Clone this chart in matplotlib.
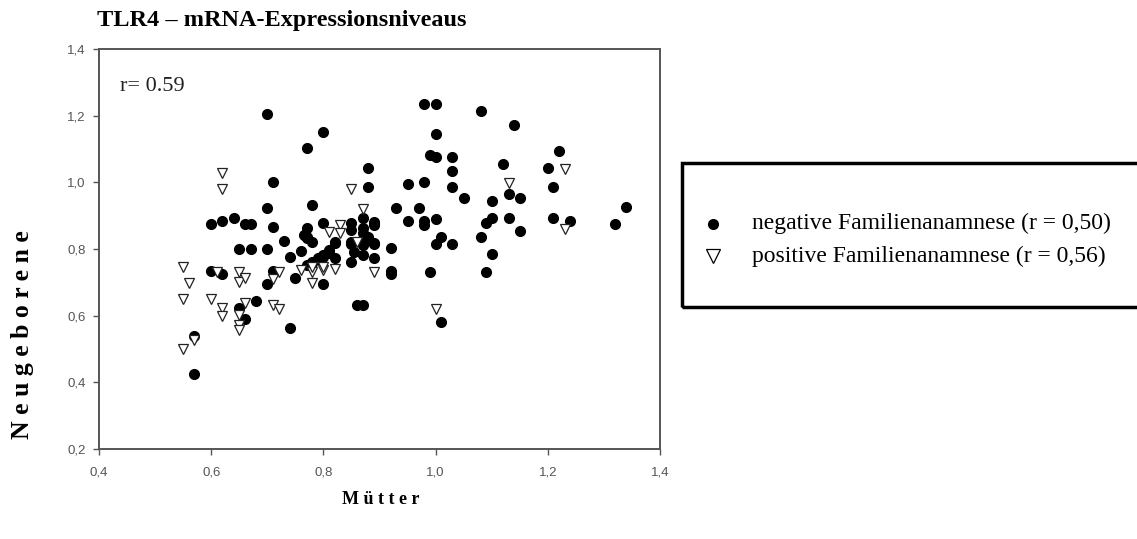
import numpy as np
import matplotlib.pyplot as plt
from matplotlib.patches import Rectangle

# Mütter / Neugeborene, negative Familienanamnese
neg_x = [0.70, 0.80, 0.77, 0.71, 0.70, 0.78,
         0.60, 0.62, 0.64, 0.66, 0.67,
         0.71, 0.77, 0.80, 0.73, 0.77, 0.78,
         0.65, 0.67, 0.70, 0.76, 0.74,
         0.60, 0.62, 0.71, 0.70, 0.75, 0.80,
         0.78, 0.795, 0.81,
         0.65, 0.66, 0.68, 0.74, 0.57, 0.57,
         0.98, 1.00, 1.00, 1.08, 1.14, 1.22,
         0.99, 1.00, 1.03, 1.03, 1.03, 1.12, 1.20, 1.21,
         0.88, 0.88, 0.95, 0.98, 1.05, 1.10, 1.13, 1.15,
         0.93, 0.97, 0.95, 0.98, 0.98, 1.00, 1.10, 1.09, 1.13, 1.15, 1.21,
         1.08, 1.01, 1.00, 1.03, 1.10, 0.92,
         0.82, 0.85, 0.87, 0.89,
         0.80, 0.82, 0.85, 0.87, 0.89,
         0.92, 0.92, 0.99, 1.09,
         0.86, 0.87, 1.01,
         1.24, 1.34, 1.32,
         0.87, 0.89, 0.89, 0.765, 0.77, 0.85, 0.85, 0.87, 0.87, 0.88,
         0.85, 0.87, 0.82, 0.89, 0.81, 0.80, 0.79, 0.78, 0.77, 0.855]
neg_y = [1.205, 1.152, 1.104, 1.00, 0.924, 0.933,
         0.876, 0.884, 0.892, 0.876, 0.876,
         0.865, 0.864, 0.877, 0.824, 0.837, 0.822,
         0.80, 0.80, 0.80, 0.795, 0.777,
         0.734, 0.725, 0.734, 0.694, 0.714, 0.694,
         0.757, 0.767, 0.787,
         0.622, 0.59, 0.644, 0.562, 0.54, 0.425,
         1.234, 1.234, 1.144, 1.214, 1.172, 1.095,
         1.082, 1.075, 1.075, 1.035, 0.985, 1.055, 1.042, 0.985,
         1.042, 0.985, 0.995, 1.002, 0.952, 0.944, 0.965, 0.952,
         0.924, 0.924, 0.884, 0.884, 0.872, 0.889, 0.892, 0.877, 0.892, 0.855, 0.892,
         0.835, 0.835, 0.815, 0.815, 0.784, 0.802,
         0.819, 0.815, 0.815, 0.815,
         0.777, 0.772, 0.762, 0.782, 0.772,
         0.735, 0.725, 0.732, 0.732,
         0.632, 0.632, 0.582,
         0.884, 0.925, 0.874,
         0.892, 0.882, 0.872, 0.842, 0.832, 0.877, 0.857, 0.862, 0.847, 0.837,
         0.822, 0.812, 0.822, 0.817, 0.797, 0.782, 0.772, 0.762, 0.752, 0.792]

# positive Familienanamnese
pos_x = [0.62, 0.62, 0.55, 0.61, 0.65, 0.65, 0.66, 0.72, 0.71,
         0.76, 0.78, 0.80, 0.78, 0.80,
         0.55, 0.56, 0.60, 0.62, 0.62, 0.65, 0.65, 0.65, 0.66, 0.71, 0.72,
         0.57, 0.55,
         0.85, 0.87, 0.81, 0.83, 0.83, 0.86, 0.82, 0.78, 0.89,
         1.13, 1.00, 1.23, 1.23]
pos_y = [1.029, 0.98, 0.747, 0.732, 0.732, 0.70, 0.712, 0.73, 0.709,
         0.737, 0.732, 0.737, 0.699, 0.747,
         0.649, 0.699, 0.649, 0.622, 0.599, 0.602, 0.572, 0.557, 0.637, 0.632, 0.62,
         0.527, 0.50,
         0.98, 0.919, 0.852, 0.872, 0.849, 0.822, 0.739, 0.745, 0.732,
         0.999, 0.62, 1.04, 0.859]

xticks = [0.4, 0.6, 0.8, 1.0, 1.2, 1.4]
yticks = [0.2, 0.4, 0.6, 0.8, 1.0, 1.2, 1.4]

serif = ['Liberation Serif', 'DejaVu Serif']
sans = ['Liberation Sans', 'DejaVu Sans']

fig = plt.figure(figsize=(11.37, 5.39), dpi=100)
ax = fig.add_axes([0.0871, 0.167, 0.4934, 0.742])

ax.plot(neg_x, neg_y, 'o', color='black', markersize=7, ls='none')
ax.plot(pos_x, pos_y, 'v', markerfacecolor='white', markeredgecolor='#222222',
        markeredgewidth=0.9, markersize=7.5, ls='none')

ax.set_xlim(0.4, 1.4)
ax.set_ylim(0.2, 1.4)
ax.set_xticks(xticks)
ax.set_yticks(yticks)
ax.set_xticklabels([f"{t:.1f}".replace('.', ',') for t in xticks], family=sans)
ax.set_yticklabels([f"{t:.1f}".replace('.', ',') for t in yticks], family=sans)
ax.tick_params(direction='out', length=4.5, width=1, colors='#555555',
               labelsize=9.5, labelcolor='#555555')
ax.tick_params(axis='y', pad=5)
ax.tick_params(axis='x', pad=8)
for s in ax.spines.values():
    s.set_color('#555555')
    s.set_linewidth(1.4)

ax.text(0.038, 0.895, 'r= 0.59', transform=ax.transAxes, family=serif,
        fontsize=16, color='#222222')

fig.text(0.0853, 0.962, 'TLR4 – mRNA-Expressionsniveaus', family=serif,
         fontweight='bold', fontsize=17.5, va='center', ha='left')
fig.text(0.020, 0.380, 'N e u g e b o r e n e', family=serif, fontweight='bold',
         fontsize=18.5, rotation=90, va='center', ha='center')
fig.text(0.335, 0.074, 'M ü t t e r', family=serif, fontweight='bold',
         fontsize=13, va='center', ha='center')

# Legendenkasten rechts
fig.patches.append(Rectangle((0.600, 0.430), 0.45, 0.267, transform=fig.transFigure,
                             fill=False, edgecolor='black', linewidth=2.5))
fig.lines.append(plt.Line2D([0.627], [0.585], transform=fig.transFigure, marker='o',
                            color='black', markersize=7, ls='none'))
fig.lines.append(plt.Line2D([0.627], [0.525], transform=fig.transFigure, marker='v',
                            markerfacecolor='white', markeredgecolor='black',
                            markeredgewidth=0.9, markersize=10, ls='none'))
fig.text(0.661, 0.585, 'negative Familienanamnese (r = 0,50)', family=serif,
         fontsize=17, va='center', ha='left')
fig.text(0.661, 0.525, 'positive Familienanamnese (r = 0,56)', family=serif,
         fontsize=17, va='center', ha='left')

fig.savefig('out.png', dpi=100)
